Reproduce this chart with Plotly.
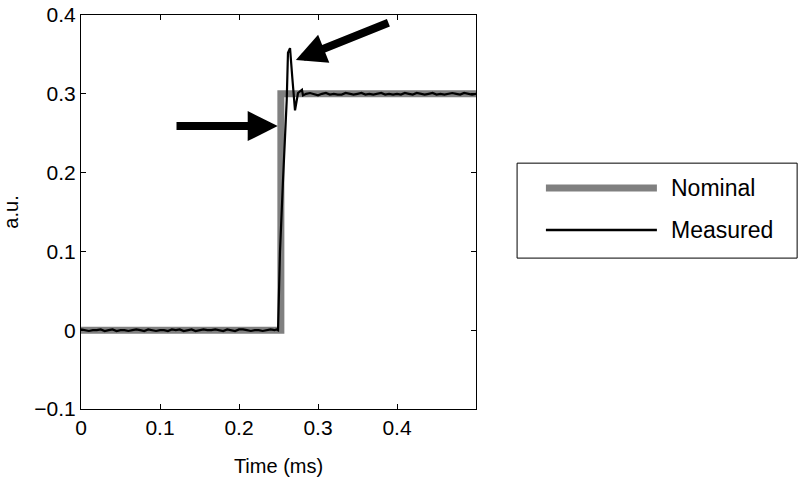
import plotly.graph_objects as go

# ---- data ----
nominal_time = [0.0, 0.253, 0.253, 0.5]
nominal_value = [0.0, 0.0, 0.3, 0.3]

measured_time = [
    0.000, 0.005, 0.010, 0.015, 0.020, 0.025, 0.030, 0.035, 0.040, 0.045,
    0.050, 0.055, 0.060, 0.065, 0.070, 0.075, 0.080, 0.085, 0.090, 0.095,
    0.100, 0.105, 0.110, 0.115, 0.120, 0.125, 0.130, 0.135, 0.140, 0.145,
    0.150, 0.155, 0.160, 0.165, 0.170, 0.175, 0.180, 0.185, 0.190, 0.195,
    0.200, 0.205, 0.210, 0.215, 0.220, 0.225, 0.230, 0.235, 0.240, 0.245,
    0.2475, 0.2494, 0.2519, 0.2557, 0.2604, 0.2620, 0.2646, 0.2675, 0.2709,
    0.2747, 0.2797, 0.2810, 0.2850, 0.2900,
    0.295, 0.300, 0.305, 0.310, 0.315, 0.320, 0.325, 0.330, 0.335, 0.340,
    0.345, 0.350, 0.355, 0.360, 0.365, 0.370, 0.375, 0.380, 0.385, 0.390,
    0.395, 0.400, 0.405, 0.410, 0.415, 0.420, 0.425, 0.430, 0.435, 0.440,
    0.445, 0.450, 0.455, 0.460, 0.465, 0.470, 0.475, 0.480, 0.485, 0.490,
    0.495, 0.500,
]
measured_value = [
    0.001, 0.000, -0.001, 0.000, 0.000, 0.001, -0.001, 0.000, 0.001, -0.001,
    0.000, 0.000, -0.001, 0.000, 0.001, 0.000, -0.001, 0.001, 0.000, -0.001,
    0.000, 0.000, -0.001, 0.001, 0.000, 0.001, -0.001, 0.000, 0.001, -0.001,
    0.000, 0.001, 0.000, 0.000, 0.001, 0.000, -0.001, 0.001, 0.000, -0.001,
    0.001, 0.001, 0.000, -0.001, 0.000, 0.000, -0.001, 0.000, 0.001, 0.000,
    0.001, 0.000, 0.100, 0.190, 0.292, 0.352, 0.358, 0.320, 0.279,
    0.301, 0.305, 0.298, 0.300, 0.301,
    0.299, 0.298, 0.300, 0.301, 0.299, 0.300, 0.299, 0.299, 0.301, 0.300,
    0.299, 0.300, 0.301, 0.299, 0.300, 0.299, 0.300, 0.301, 0.299, 0.300,
    0.299, 0.300, 0.299, 0.301, 0.300, 0.299, 0.301, 0.300, 0.299, 0.300,
    0.301, 0.299, 0.300, 0.299, 0.300, 0.301, 0.300, 0.299, 0.301, 0.300,
    0.299, 0.300,
]

series_names = ["Nominal", "Measured"]
x_ticks = [0, 0.1, 0.2, 0.3, 0.4]
y_ticks = [-0.1, 0, 0.1, 0.2, 0.3, 0.4]

# arrows: (tip_x, tip_y, tail_x, tail_y) in data units
arrows = [
    (0.249, 0.259, 0.119, 0.259),
    (0.272, 0.343, 0.391, 0.391),
]

nominal_color = "#808080"
measured_color = "#000000"
FONT = "Liberation Sans, Arial, Helvetica, sans-serif"

fig = go.Figure()
fig.add_trace(go.Scatter(x=nominal_time, y=nominal_value, mode="lines",
                         name=series_names[0], showlegend=False,
                         line=dict(color=nominal_color, width=7)))
fig.add_trace(go.Scatter(x=measured_time, y=measured_value, mode="lines",
                         name=series_names[1], showlegend=False,
                         line=dict(color=measured_color, width=2.2)))

for tx, ty, sx, sy in arrows:
    fig.add_annotation(x=tx, y=ty, ax=sx, ay=sy, xref="x", yref="y",
                       axref="x", ayref="y", text="", showarrow=True,
                       arrowhead=2, arrowsize=0.75, arrowwidth=8,
                       arrowcolor="black")

# custom legend (paper coords relative to plot area)
fig.add_shape(type="rect", xref="paper", yref="paper",
              x0=1.104, x1=1.813, y0=0.383, y1=0.624,
              line=dict(color="black", width=1), fillcolor="white")
legend_rows = [(0.561, nominal_color, 7), (0.454, measured_color, 2.5)]
for name, (ly, col, w) in zip(series_names, legend_rows):
    fig.add_shape(type="line", xref="paper", yref="paper",
                  x0=1.177, x1=1.458, y0=ly, y1=ly,
                  line=dict(color=col, width=w))
    fig.add_annotation(x=1.489, y=ly, xref="paper", yref="paper",
                       text=name, showarrow=False, xanchor="left",
                       yanchor="middle", font=dict(size=23, color="black",
                                                   family=FONT))

axis_common = dict(showline=True, linecolor="black", linewidth=1.2,
                   mirror="ticks", ticks="inside", ticklen=5,
                   tickcolor="black", showgrid=False, zeroline=False,
                   automargin=False, ticklabeloverflow="allow",
                   tickfont=dict(size=21, color="black", family=FONT))

fig.update_xaxes(range=[0, 0.5], tickvals=x_ticks,
                 ticktext=[str(v) for v in x_ticks],
                 title=dict(text="Time (ms)", standoff=20,
                            font=dict(size=20, color="black", family=FONT)),
                 **axis_common)
fig.update_yaxes(range=[-0.1, 0.4], tickvals=y_ticks,
                 ticktext=["\u22120.1", "0", "0.1", "0.2", "0.3", "0.4"],
                 title=dict(text="a.u.", standoff=16,
                            font=dict(size=20, color="black", family=FONT)),
                 **axis_common)

fig.update_layout(width=800, height=490,
                  margin=dict(l=81, r=324, t=15, b=81),
                  paper_bgcolor="white", plot_bgcolor="white",
                  font=dict(family=FONT, color="black"))

# remove the default 8px page margin so the figure fills the window exactly
fig.write_html("out.html",
               config={"displayModeBar": False},
               post_script="document.body.style.margin='0';"
                           "document.body.style.overflow='hidden';")
